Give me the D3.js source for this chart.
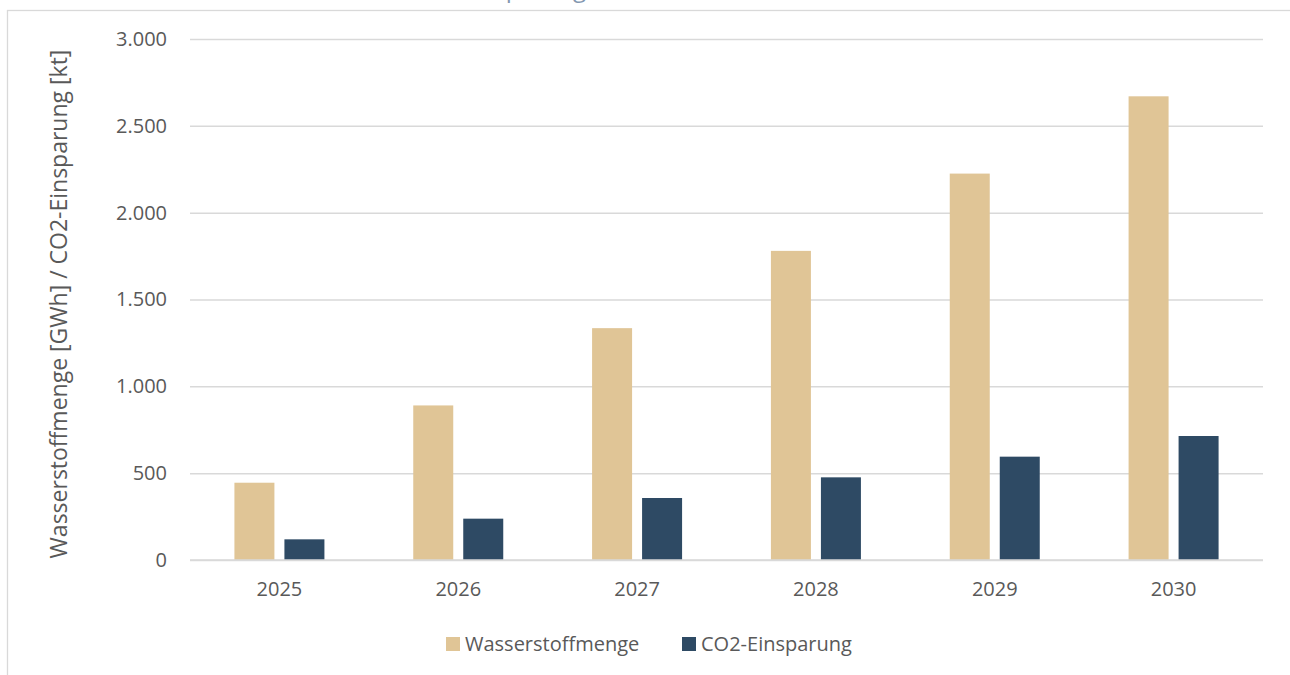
<!DOCTYPE html>
<html lang="de">
  <head>
    <meta charset="utf-8">
    <title>Wasserstoffmenge und CO2-Einsparung</title>
    <script src="https://d3js.org/d3.v7.min.js" charset="utf-8"></script>
    <style type="text/css">
      html, body {
        margin: 0;
        padding: 0;
        background: white;
      }
      svg text {
        font-family: "Open Sans", "Noto Sans", sans-serif;
        fill: #595959;
      }
    </style>
  </head>
  <body>
    <script>
      var width = 1290;
      var height = 675;

      // chart data
      var years = ["2025", "2026", "2027", "2028", "2029", "2030"];
      var seriesNames = ["Wasserstoffmenge", "CO2-Einsparung"];
      var wasserstoff = [445, 890, 1335, 1780, 2225, 2670];
      var co2 = [119, 238, 357, 476, 595, 714];
      var yTicks = [0, 500, 1000, 1500, 2000, 2500, 3000];
      var colors = ["#E0C596", "#2E4A64"];

      var rows = years.map(function(y, i) {
        return { year: y, values: [wasserstoff[i], co2[i]] };
      });

      var svg = d3.select("body")
        .append("svg")
        .attr("width", width)
        .attr("height", height);

      // outer chart frame (partly off screen)
      svg.append("rect")
        .attr("x", 7.5)
        .attr("y", 10.5)
        .attr("width", 1400)
        .attr("height", 800)
        .attr("fill", "none")
        .attr("stroke", "#d9d9d9")
        .attr("stroke-width", 1.3);

      // title, cut off by the top of the picture (as in the original)
      svg.append("text")
        .attr("x", 586)
        .attr("y", -3)
        .attr("text-anchor", "end")
        .style("font-size", "24px")
        .style("fill", "#8497B0")
        .text("CO2-Einsparung");

      var x0 = d3.scaleBand()
        .domain(years)
        .range([190, 1263])
        .paddingInner(0)
        .paddingOuter(0);

      var x1 = d3.scaleBand()
        .domain(seriesNames)
        .range([0, 90])
        .paddingInner(0.2);

      var y = d3.scaleLinear()
        .domain([0, 3000])
        .range([560, 39]);

      var fmt = function(d) {
        return d3.format(",")(d).replace(/,/g, ".");
      };

      // gridlines + y labels
      var yAxis = svg.append("g")
        .attr("transform", "translate(190,0)")
        .call(d3.axisLeft(y).tickValues(yTicks).tickSize(-(1263 - 190)).tickPadding(23).tickFormat(fmt));

      yAxis.select(".domain").remove();
      yAxis.selectAll(".tick line")
        .attr("stroke", "#d9d9d9")
        .attr("stroke-width", 1.5);
      yAxis.selectAll(".tick text")
        .style("font-size", "20px")
        .style("fill", "#595959")
        .style("font-family", "'Open Sans', sans-serif");

      // bars
      var groups = svg.append("g")
        .selectAll("g")
        .data(rows)
        .enter()
        .append("g")
        .attr("transform", function(d) {
          return "translate(" + (x0(d.year) + x0.bandwidth() / 2 - 45) + ",0)";
        });

      groups.selectAll("rect")
        .data(function(d) {
          return d.values.map(function(v, i) { return { name: seriesNames[i], value: v, i: i }; });
        })
        .enter()
        .append("rect")
        .attr("x", function(d) { return x1(d.name); })
        .attr("width", x1.bandwidth())
        .attr("y", function(d) { return y(d.value); })
        .attr("height", function(d) { return y(0) - y(d.value); })
        .attr("fill", function(d) { return colors[d.i]; });

      // baseline drawn over bars
      svg.append("line")
        .attr("x1", 190)
        .attr("x2", 1263)
        .attr("y1", y(0))
        .attr("y2", y(0))
        .attr("stroke", "#d9d9d9")
        .attr("stroke-width", 1.5);

      // x labels
      var xAxis = svg.append("g")
        .attr("transform", "translate(0," + y(0) + ")")
        .call(d3.axisBottom(x0).tickSize(0).tickPadding(22));

      xAxis.select(".domain").remove();
      xAxis.selectAll(".tick text")
        .style("font-size", "20px")
        .style("fill", "#595959")
        .style("font-family", "'Open Sans', sans-serif");

      // y axis title
      svg.append("text")
        .attr("transform", "translate(67,304) rotate(-90)")
        .attr("text-anchor", "middle")
        .style("font-size", "23px")
        .text("Wasserstoffmenge [GWh] / CO2-Einsparung [kt]");

      // legend
      var legendX = [446, 682];
      var legend = svg.append("g")
        .selectAll("g")
        .data(seriesNames)
        .enter()
        .append("g")
        .attr("transform", function(d, i) { return "translate(" + legendX[i] + ",637)"; });

      legend.append("rect")
        .attr("width", 14)
        .attr("height", 14)
        .attr("fill", function(d, i) { return colors[i]; });

      legend.append("text")
        .attr("x", 19)
        .attr("y", 14)
        .style("font-size", "20px")
        .text(function(d) { return d; });
    </script>
  </body>
</html>
